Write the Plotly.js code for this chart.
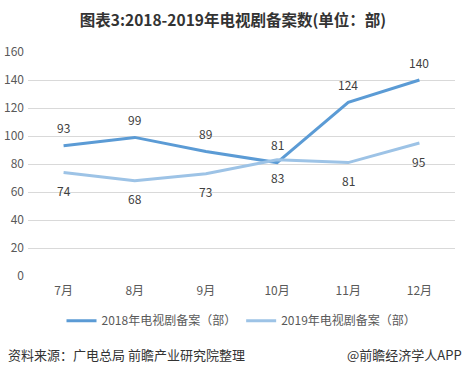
<!DOCTYPE html>
<html><head><meta charset="utf-8">
<script src="https://cdn.plot.ly/plotly-3.0.1.min.js"></script>
<style>html,body{margin:0;padding:0;background:#fff}#chart{width:466px;height:375px}</style>
</head><body><div id="chart"></div>
<script>
const months = ['7月','8月','9月','10月','11月','12月'];
const series2018 = [93, 99, 89, 81, 124, 140];
const series2019 = [74, 68, 73, 83, 81, 95];
const name2018 = '2018年电视剧备案（部）';
const name2019 = '2019年电视剧备案（部）';
const yTicks = [0,20,40,60,80,100,120,140,160];

const font = 'Microsoft YaHei, "Noto Sans CJK SC", sans-serif';
const traces = [
  {x: months, y: series2018, name: name2018, type: 'scatter', mode: 'lines',
   line: {color: '#5B9BD5', width: 3}},
  {x: months, y: series2019, name: name2019, type: 'scatter', mode: 'lines',
   line: {color: '#9DC3E6', width: 3}}
];
const labelAnns = [];
months.forEach((m, i) => {
  labelAnns.push({x: m, y: series2018[i], xref: 'x', yref: 'y', text: String(series2018[i]), showarrow: false,
    yshift: 18, font: {size: 12, color: '#404040'}});
  labelAnns.push({x: m, y: series2019[i], xref: 'x', yref: 'y', text: String(series2019[i]), showarrow: false,
    yshift: -18, font: {size: 12, color: '#404040'}});
});
const layout = {
  width: 466, height: 375,
  margin: {l: 28, r: 11, t: 52, b: 99},
  paper_bgcolor: '#fff', plot_bgcolor: '#fff',
  font: {family: font, size: 12, color: '#595959'},
  title: {text: '<b>图表3:2018-2019年电视剧备案数(单位：部)</b>', x: 0.5, xanchor: 'center', y: 0.945, yanchor: 'middle',
          font: {size: 15.5, color: '#333333', family: font}},
  xaxis: {type: 'category', range: [-0.5, 5.5], showgrid: false, zeroline: false,
          showline: false, ticks: '', tickfont: {size: 12, color: '#595959'}, ticklabelstandoff: 6},
  yaxis: {range: [0, 160], tickvals: yTicks, showgrid: true, gridcolor: '#d9d9d9', gridwidth: 1,
          zeroline: false, showline: false, ticks: '', tickfont: {size: 12, color: '#595959'}, ticklabelstandoff: 3},
  showlegend: true,
  legend: {orientation: 'h', x: 0.5, xanchor: 'center', y: -0.2, yanchor: 'middle',
           font: {size: 12, color: '#595959'}, itemwidth: 30, tracegroupgap: 0},
  annotations: labelAnns.concat([
    {text: '资料来源：广电总局 前瞻产业研究院整理', xref: 'paper', yref: 'paper', x: 0, xshift: -22, y: -0.35,
     xanchor: 'left', yanchor: 'middle', showarrow: false, font: {size: 13, color: '#333333'}},
    {text: '@前瞻经济学人APP', xref: 'paper', yref: 'paper', x: 1, xshift: 9, y: -0.35,
     xanchor: 'right', yanchor: 'middle', showarrow: false, font: {size: 13, color: '#333333'}}
  ])
};
Plotly.newPlot('chart', traces, layout, {displayModeBar: false, staticPlot: true});
</script></body></html>
